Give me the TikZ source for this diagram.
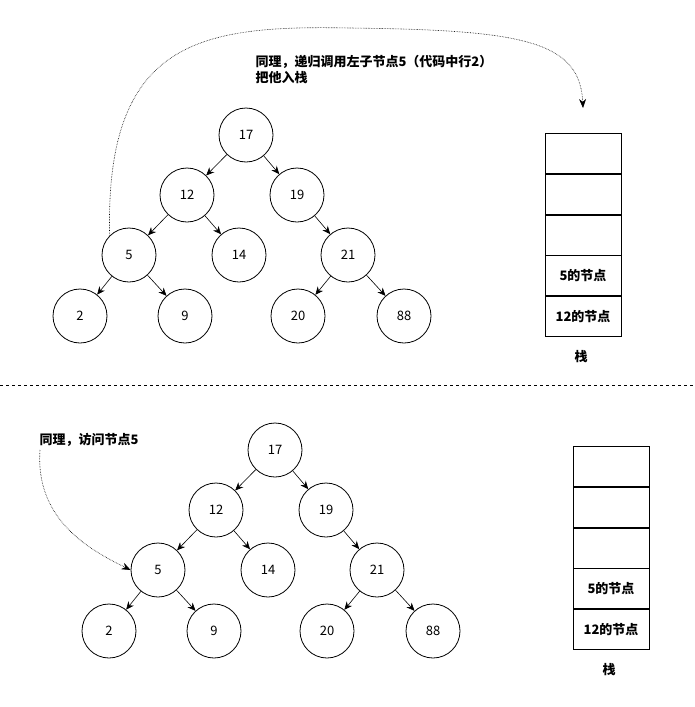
\documentclass[tikz,border=0pt]{standalone}
\usepackage{fontspec}
\setmainfont{Noto Sans CJK SC}
\usetikzlibrary{arrows.meta}
\begin{document}
\begin{tikzpicture}[x=1pt,y=-1pt,
  tn/.style={circle,draw,thick,minimum size=54pt,inner sep=0pt,font=\fontsize{13}{15}\selectfont},
  cell/.style={draw,thick,minimum width=76pt,minimum height=40pt,inner sep=0pt,font=\fontsize{13}{15}\selectfont\bfseries},
  ed/.style={-{Stealth[length=8pt,width=7pt]},semithick},
  lbl/.style={font=\fontsize{13}{16}\selectfont\bfseries,align=left,anchor=west},
  dsh/.style={densely dotted,semithick,-{Stealth[length=9pt,width=7pt]}}]
\useasboundingbox (0,0) rectangle (694,707);
\foreach \p/\dx/\dy/\sx/\sy in {a/0/0/583/133, b/29/315/611/446}{
\begin{scope}[shift={(\dx,\dy)}]
\node[tn] (\p17) at (246,135) {17};
\node[tn] (\p12) at (187,195) {12};
\node[tn] (\p19) at (297,195) {19};
\node[tn] (\p5) at (129,255) {5};
\node[tn] (\p14) at (239,255) {14};
\node[tn] (\p21) at (348,255) {21};
\node[tn] (\p2) at (80,316) {2};
\node[tn] (\p9) at (185,316) {9};
\node[tn] (\p20) at (298,316) {20};
\node[tn] (\p88) at (404,316) {88};
\draw[ed] (\p17) -- (\p12); \draw[ed] (\p17) -- (\p19);
\draw[ed] (\p12) -- (\p5); \draw[ed] (\p12) -- (\p14);
\draw[ed] (\p19) -- (\p21);
\draw[ed] (\p5) -- (\p2); \draw[ed] (\p5) -- (\p9);
\draw[ed] (\p21) -- (\p20); \draw[ed] (\p21) -- (\p88);
\end{scope}
\node[cell,anchor=north] (\p s1) at (\sx,\sy) {};
\node[cell,anchor=north] (\p s2) at (\p s1.south) {};
\node[cell,anchor=north] (\p s3) at (\p s2.south) {};
\node[cell,anchor=north] (\p s4) at (\p s3.south) {5的节点};
\node[cell,anchor=north] (\p s5) at (\p s4.south) {12的节点};
\node[font=\fontsize{13}{15}\selectfont\bfseries] (\p st) at (\sx-2,\sy+224) {栈};
}
\node[lbl] (t1) at (252,69) {同理，递归调用左子节点5（代码中行2）\\把他入栈};
\coordinate (c1) at (583,108);
\draw[dsh] (a5.north west) .. controls (105,40) and (200,25) .. (350,28)
  .. controls (520,30) and (580,40) .. (c1);
\draw[dashed,thin] (0,385) -- (694,385);
\node[lbl] (t2) at (36,440) {同理，访问节点5};
\draw[dsh] (40,450) .. controls (35,520) and (90,550) .. (b5.west);
\end{tikzpicture}
\end{document}
